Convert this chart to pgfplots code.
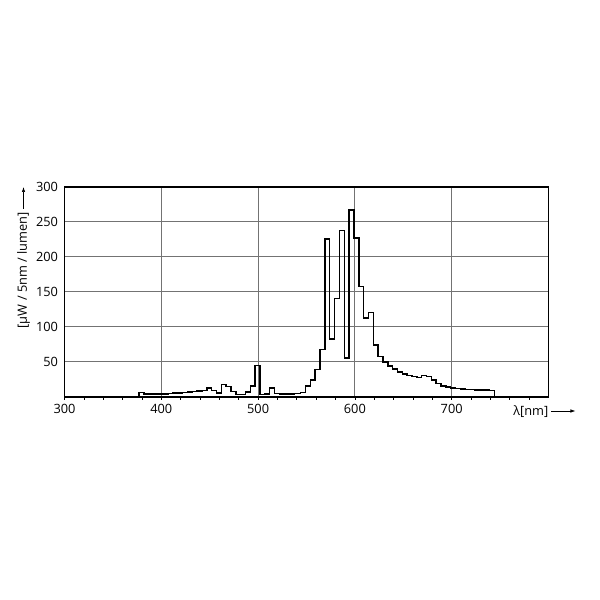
\documentclass[border=0pt]{standalone}
\usepackage{pgfplots}
\pgfplotsset{compat=1.18}
\usepackage{fontspec}
\setmainfont{Open Sans}
\usetikzlibrary{arrows.meta}
\begin{document}
\begin{tikzpicture}[x=1pt,y=1pt]
\useasboundingbox (0,0) rectangle (600,600);
\begin{axis}[
  at={(64.5pt,203pt)}, anchor=south west,
  width=484pt, height=210pt, scale only axis,
  xmin=300, xmax=800, ymin=0, ymax=300,
  xtick={300,400,...,700},
  minor xtick={320,340,...,780},
  ytick={50,100,...,300},
  xtick pos=bottom, ytick pos=left,
  tick align=outside,
  major tick length=3pt, minor tick length=3pt,
  xtick style={black, line width=0.7pt},
  minor tick style={black, line width=0.7pt},
  ytick style={draw=none},
  grid=major,
  major grid style={draw=black!55, line width=1pt},
  axis line style={black, line width=1.4pt},
  /pgf/number format/assume math mode=true,
  tick label style={font=\fontsize{12.8}{15}\selectfont},
  xticklabel style={yshift=-1pt},
  clip=false,
]
\addplot[const plot, black, line width=1.5pt] coordinates {
(377,0) (377,6.5) (382,4.5) (387,4) (392,4) (397,4) (402,4.5) (407,5) (412,5.5)
(417,6) (422,6.5) (427,7) (432,7.5) (437,8.5) (442,9) (447,12.5) (452,9.5)
(457,6) (462,18) (467,15) (472,8) (477,3.5) (482,3.5) (487,7) (492,15.5)
(497,45) (502,3.8) (507,4) (512,12.5) (517,5) (522,4) (527,4) (532,4.5)
(537,5) (544,6.5) (549,16) (554,24) (559,39) (564,68) (569,226) (574,83)
(579,141) (584,238) (589,56) (594,267) (599,227) (604,158) (609,113) (614,121)
(619,74) (624,58) (629,50) (634,44) (639,40) (644,36) (649,33) (654,31)
(659,29) (664,27.5) (669,30.5) (674,29) (679,24) (684,19) (689,15.5) (694,14)
(699,12.5) (704,12) (709,11.5) (714,11) (719,10.5) (724,10.2) (729,10) (734,9.7)
(739,9.5) (744,9.5) (744,0)
};
\node[anchor=east, inner sep=0pt, font=\fontsize{12.8}{15}\selectfont]
  at ([yshift=-14.5pt]rel axis cs:1,0) {λ[nm]};
\draw[-{Latex[length=5pt,width=3.5pt]}, line width=0.7pt]
  ([xshift=3pt,yshift=-14pt]rel axis cs:1,0) -- ([xshift=27pt,yshift=-14pt]rel axis cs:1,0);
\node[rotate=90, anchor=east, inner sep=0pt, font=\fontsize{12.8}{15}\selectfont]
  at ([xshift=-41pt,yshift=-25pt]rel axis cs:0,1) {[μW / 5nm / lumen]};
\draw[-{Latex[length=5pt,width=3.5pt]}, line width=0.7pt]
  ([xshift=-41pt,yshift=-22pt]rel axis cs:0,1) -- ([xshift=-41pt,yshift=0pt]rel axis cs:0,1);
\end{axis}
\end{tikzpicture}
\end{document}
